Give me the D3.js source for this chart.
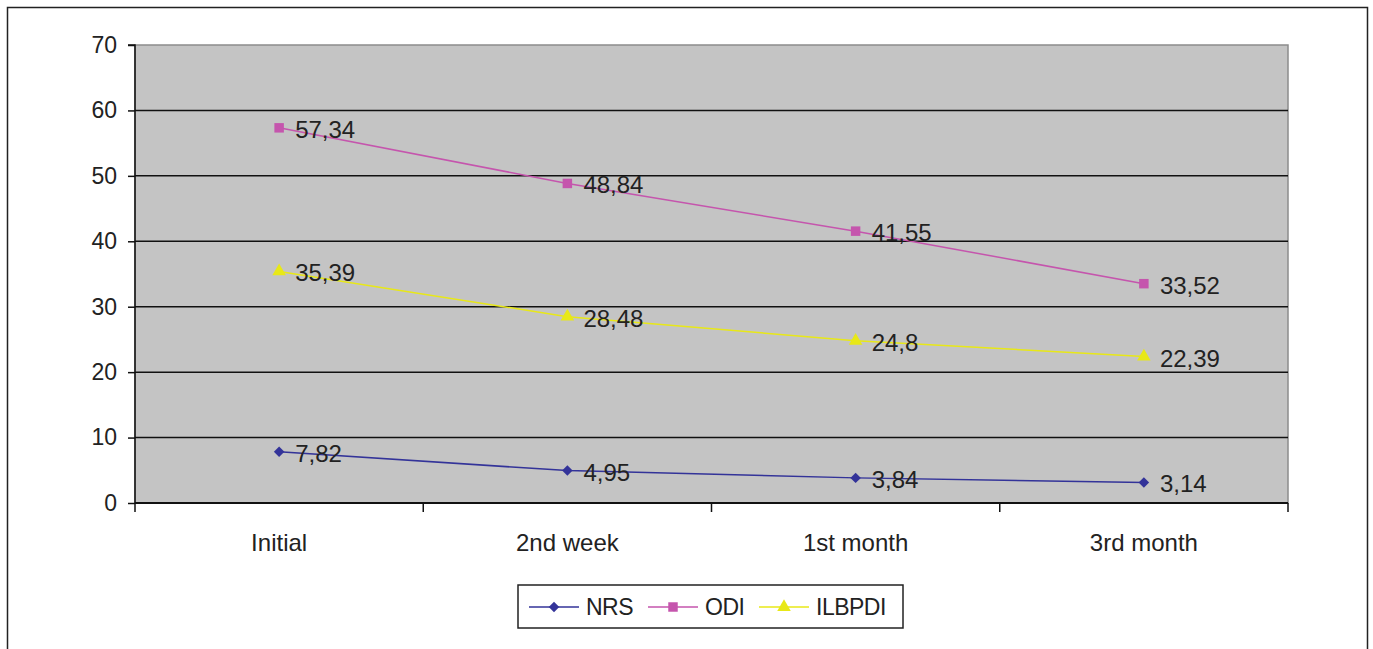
<!DOCTYPE html>
<html>
<head>
<meta charset="utf-8">
<script src="https://cdn.jsdelivr.net/npm/d3@7"></script>
<style>
  body { margin: 0; background: #fff; }
  svg { display: block; font-family: "Liberation Sans", Arial, sans-serif; }
</style>
</head>
<body>
<script>
// chart data
let categories = ["Initial", "2nd week", "1st month", "3rd month"]
let nrsValues = [7.82, 4.95, 3.84, 3.14]
let odiValues = [57.34, 48.84, 41.55, 33.52]
let ilbpdiValues = [35.39, 28.48, 24.8, 22.39]
let seriesNames = ["NRS", "ODI", "ILBPDI"]
let yTicks = [0, 10, 20, 30, 40, 50, 60, 70]

let width = 1373
let height = 649

let series = [
    {name: seriesNames[0], values: nrsValues, color: "#333399", symbol: d3.symbolDiamond2, size: 70},
    {name: seriesNames[1], values: odiValues, color: "#c555ad", symbol: d3.symbolSquare, size: 90},
    {name: seriesNames[2], values: ilbpdiValues, color: "#e8e817", symbol: d3.symbolTriangle, size: 80}
]

let svg = d3.select("body")
            .append("svg")
            .attr("width", width)
            .attr("height", height)

// outer frame (no bottom edge visible)
svg.append("path")
    .attr("d", "M7.5,649 V7.5 H1367.5 V649")
    .attr("fill", "none")
    .attr("stroke", "#222")
    .attr("stroke-width", 1.5)

let plot = {left: 135, right: 1288, top: 45, bottom: 503}

let xScale = d3.scaleBand()
                .domain(categories)
                .range([plot.left, plot.right])

let yScale = d3.scaleLinear()
                .domain([0, 70])
                .range([plot.bottom, plot.top])

// plot background
svg.append("rect")
    .attr("x", plot.left)
    .attr("y", plot.top)
    .attr("width", plot.right - plot.left)
    .attr("height", plot.bottom - plot.top)
    .attr("fill", "#c4c4c4")
    .attr("stroke", "#8c8c8c")
    .attr("stroke-width", 1.5)

// gridlines
svg.append("g")
    .selectAll("line")
    .data(yTicks.filter(d => d > 0 && d < 70))
    .enter()
    .append("line")
    .attr("x1", plot.left)
    .attr("x2", plot.right)
    .attr("y1", d => yScale(d))
    .attr("y2", d => yScale(d))
    .attr("stroke", "#111")
    .attr("stroke-width", 1.5)

// y axis
let yAxis = d3.axisLeft(yScale)
                .tickValues(yTicks)
                .tickSize(7)
                .tickPadding(11)

let yG = svg.append("g")
    .attr("transform", "translate(" + plot.left + ",0)")
    .call(yAxis)
yG.select(".domain").attr("stroke", "#111").attr("stroke-width", 1.5).attr("d", "M-7," + plot.top + "H0V" + plot.bottom)
yG.selectAll(".tick line").attr("stroke", "#111").attr("stroke-width", 1.5)
yG.selectAll("text").attr("font-size", 23).attr("fill", "#222").attr("font-family", null)

// x axis: ticks sit on category boundaries
let xG = svg.append("g")
    .attr("transform", "translate(0," + plot.bottom + ")")
xG.append("line")
    .attr("x1", plot.left)
    .attr("x2", plot.right)
    .attr("stroke", "#111")
    .attr("stroke-width", 2)
let boundaries = categories.map(c => xScale(c)).concat([plot.right])
xG.selectAll(".bt")
    .data(boundaries)
    .enter()
    .append("line")
    .attr("x1", d => d)
    .attr("x2", d => d)
    .attr("y1", 0)
    .attr("y2", 9)
    .attr("stroke", "#111")
    .attr("stroke-width", 1.5)
xG.selectAll("text")
    .data(categories)
    .enter()
    .append("text")
    .attr("x", d => xScale(d) + xScale.bandwidth() / 2)
    .attr("y", 48)
    .attr("text-anchor", "middle")
    .attr("font-size", 24)
    .attr("fill", "#222")
    .text(d => d)

let cx = d => xScale(d) + xScale.bandwidth() / 2

let line = d3.line()
    .x((d, i) => cx(categories[i]))
    .y(d => yScale(d))

series.forEach(s => {
    let g = svg.append("g")
    g.append("path")
        .attr("d", line(s.values))
        .attr("fill", "none")
        .attr("stroke", s.color)
        .attr("stroke-width", 1.5)
    g.selectAll("path.m")
        .data(s.values)
        .enter()
        .append("path")
        .attr("class", "m")
        .attr("transform", (d, i) => "translate(" + cx(categories[i]) + "," + yScale(d) + ")")
        .attr("d", d3.symbol().type(s.symbol).size(s.size))
        .attr("fill", s.color)
    g.selectAll("text")
        .data(s.values)
        .enter()
        .append("text")
        .attr("x", (d, i) => cx(categories[i]) + 16)
        .attr("y", d => yScale(d) + 10)
        .attr("font-size", 24)
        .attr("fill", "#222")
        .text(d => String(d).replace(".", ","))
})

// legend
let legend = svg.append("g").attr("transform", "translate(518,585)")
legend.append("rect")
    .attr("width", 385)
    .attr("height", 43)
    .attr("fill", "#fff")
    .attr("stroke", "#222")
    .attr("stroke-width", 1.5)
let legendX = [11, 130, 241]
series.forEach((s, i) => {
    let lg = legend.append("g").attr("transform", "translate(" + legendX[i] + ",22)")
    lg.append("line")
        .attr("x1", 0)
        .attr("x2", 50)
        .attr("stroke", s.color)
        .attr("stroke-width", 1.5)
    lg.append("path")
        .attr("transform", "translate(25,0)")
        .attr("d", d3.symbol().type(s.symbol).size(s.size))
        .attr("fill", s.color)
    lg.append("text")
        .attr("x", 57)
        .attr("y", 8)
        .attr("font-size", 23)
        .attr("letter-spacing", -0.5)
        .attr("fill", "#222")
        .text(s.name)
})
</script>
</body>
</html>
